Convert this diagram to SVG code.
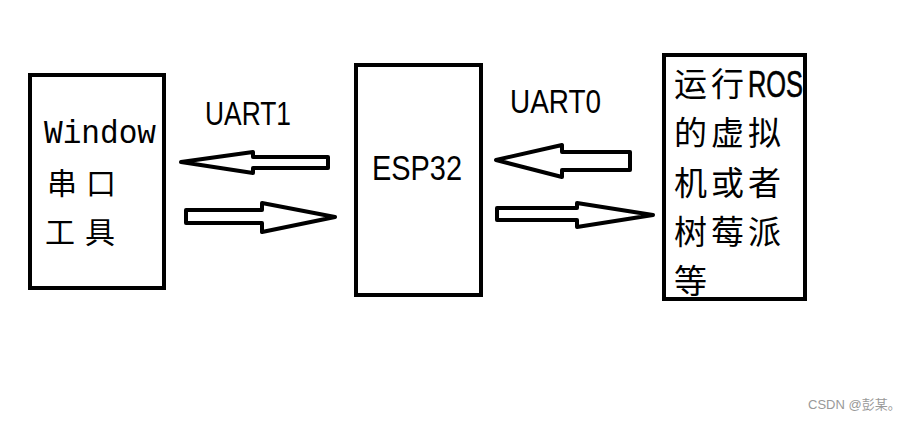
<svg xmlns="http://www.w3.org/2000/svg" width="912" height="421" viewBox="0 0 912 421">
<style>
.box{fill:#fff;stroke:#000;stroke-width:4}
.arr{fill:#fff;stroke:#000;stroke-width:4;stroke-linejoin:round}
.lat{font-family:"Liberation Sans",Arial,sans-serif;fill:#000}
.cjk{font-family:"Noto Sans CJK SC","Liberation Sans",sans-serif;fill:#000}
</style>
<rect width="912" height="421" fill="#fff"/>
<g id="window">
<rect class="box" x="30" y="75" width="134" height="213"/>
<text x="44" y="143" font-size="34" textLength="112" lengthAdjust="spacingAndGlyphs" fill="#000" style="font-family:'Liberation Mono',monospace">Window</text>
<text class="cjk" x="47 86" y="194" font-size="30">串口</text>
<text class="cjk" x="45 85" y="243" font-size="30">工具</text>
</g>
<g id="esp32">
<rect class="box" x="356" y="65" width="125" height="230"/>
<text class="lat" x="372" y="180" font-size="35" textLength="90" lengthAdjust="spacingAndGlyphs">ESP32</text>
</g>
<g id="ros">
<rect class="box" x="664" y="55" width="141" height="244"/>
<text class="cjk" x="674 711" y="96" font-size="33">运行</text>
<text class="lat" x="748" y="97" font-size="36" textLength="55" lengthAdjust="spacingAndGlyphs" stroke="#000" stroke-width="0.6">ROS</text>
<text class="cjk" x="674 711 748" y="145" font-size="33">的虚拟</text>
<text class="cjk" x="674 711 748" y="195" font-size="33">机或者</text>
<text class="cjk" x="674 711 748" y="244" font-size="33">树莓派</text>
<text class="cjk" x="674" y="293" font-size="33">等</text>
</g>
<g id="connectors">
<polygon class="arr" points="181,162 253,152 253,157 328,157 328,168 253,168 253,173"/>
<polygon class="arr" points="186,210 262,210 262,203 335,217 262,232 262,223 186,223"/>
<polygon class="arr" points="496,160 562,145 562,152 630,152 630,170 562,170 562,177"/>
<polygon class="arr" points="497,208 577,208 577,203 653,215 577,227 577,220 497,220"/>
<text class="lat" x="205" y="125" font-size="33" textLength="86" lengthAdjust="spacingAndGlyphs">UART1</text>
<text class="lat" x="510" y="113" font-size="33" textLength="91" lengthAdjust="spacingAndGlyphs">UART0</text>
</g>
<text x="808" y="409" font-size="13" fill="#999" style="font-family:'Liberation Sans','Noto Sans CJK SC',sans-serif">CSDN @彭某。</text>
</svg>
